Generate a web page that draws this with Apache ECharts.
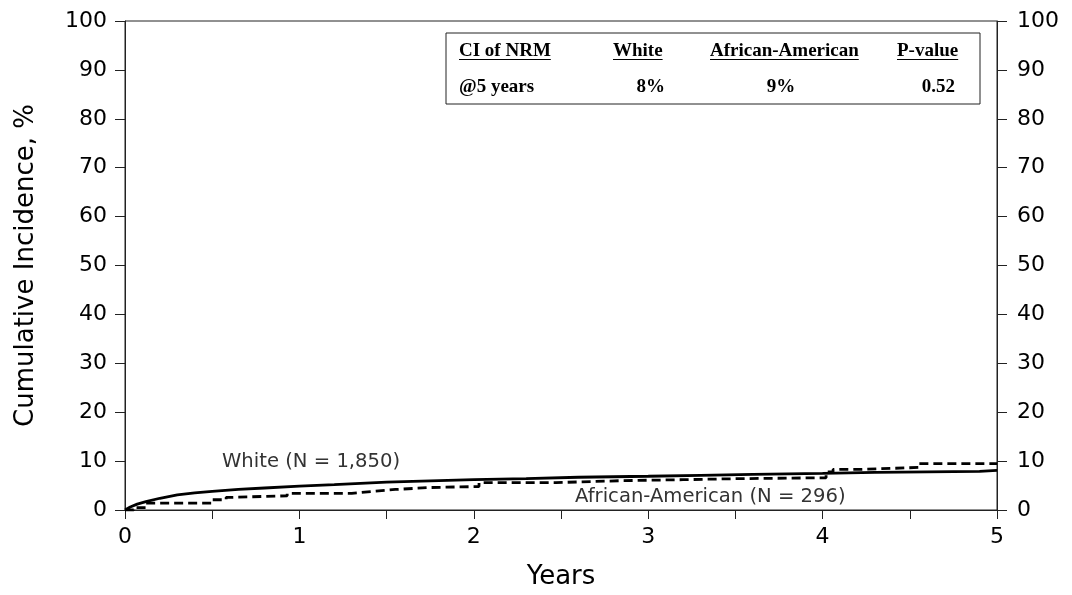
<!DOCTYPE html>
<html>
<head>
<meta charset="utf-8">
<script src="https://cdn.jsdelivr.net/npm/echarts@6/dist/echarts.min.js"></script>
<style>
  html, body { margin: 0; padding: 0; background: #fff; }
  #chart { width: 1072px; height: 595px; }
</style>
</head>
<body>
<div id="chart"></div>
<script>
// years since transplant, cumulative incidence (%)
const whiteYears = [0, 0.03, 0.07, 0.12, 0.2, 0.3, 0.4, 0.5, 0.65, 0.8, 1.0, 1.2, 1.5, 1.8, 2.0, 2.3, 2.6, 3.0, 3.3, 3.6, 4.0, 4.3, 4.6, 4.9, 5.0]
const whiteCI = [0, 0.6, 1.2, 1.7, 2.4, 3.1, 3.5, 3.8, 4.2, 4.5, 4.9, 5.2, 5.7, 6.0, 6.2, 6.4, 6.7, 6.9, 7.1, 7.3, 7.5, 7.7, 7.8, 7.9, 8.1]
const aaYears = [0, 0.05, 0.12, 0.5, 0.58, 0.62, 0.93, 1.3, 1.42, 1.55, 1.75, 2.03, 2.47, 2.85, 3.2, 3.5, 4.02, 4.06, 4.22, 4.55, 5.0]
const aaCI = [0, 0.5, 1.4, 2.1, 2.6, 2.9, 3.4, 3.8, 4.2, 4.6, 4.8, 5.6, 6.0, 6.2, 6.4, 6.6, 7.8, 8.3, 8.7, 9.5, 9.5]
const yTicks = [0, 10, 20, 30, 40, 50, 60, 70, 80, 90, 100]
const xTicks = [0, 1, 2, 3, 4, 5]
const tableHead = ["CI of NRM", "White", "African-American", "P-value"]
const tableRow = ["@5 years", "8%", "9%", "0.52"]
const seriesLabels = ["White (N = 1,850)", "African-American (N = 296)"]

const sans = "DejaVu Sans"
const serif = "Liberation Serif"

function pairs(xs, ys) {
    var out = []
    for (let i = 0; i < xs.length; i++) out.push([xs[i], ys[i]])
    return out
}
function textWidth(text, font) {
    var ctx = document.createElement("canvas").getContext("2d")
    ctx.font = font
    return ctx.measureText(text).width
}

var chart = echarts.init(document.getElementById("chart"))

function yAxisDef(pos, margin) {
    return {
        type: 'value',
        position: pos,
        min: yTicks[0],
        max: yTicks[yTicks.length - 1],
        interval: yTicks[1] - yTicks[0],
        axisLine: { show: true, lineStyle: { color: "#222", width: 1 } },
        axisTick: { show: true, length: 10, lineStyle: { color: "#222" } },
        axisLabel: { fontSize: 22, color: "#000", fontFamily: sans, margin: margin },
        splitLine: { show: false }
    }
}

var left = yAxisDef('left', 18)
left.name = "Cumulative Incidence, %"
left.nameLocation = 'middle'
left.nameGap = 86
left.nameTextStyle = { fontSize: 26, color: "#000", fontFamily: sans }

// table in the top right corner
var headFont = "bold 19px " + serif
var headX = [459, 613, 710, 897]
var rowY = [51, 87]
var graphics = [{
    type: 'rect',
    shape: { x: 446, y: 33, width: 534, height: 71 },
    style: { fill: "#fff", stroke: "#222", lineWidth: 1 }
}]
tableHead.forEach((t, i) => {
    graphics.push({
        type: 'text',
        style: { x: headX[i], y: rowY[0], text: t, font: headFont, fill: "#000", textVerticalAlign: 'middle' }
    })
    var w = textWidth(t, headFont)
    graphics.push({
        type: 'line',
        shape: { x1: headX[i], y1: rowY[0] + 8.5, x2: headX[i] + w, y2: rowY[0] + 8.5 },
        style: { stroke: "#000", lineWidth: 1 }
    })
})
var rowX = [459, 665, 781, 955]
var rowAlign = ['left', 'right', 'center', 'right']
tableRow.forEach((t, i) => {
    graphics.push({
        type: 'text',
        style: { x: rowX[i], y: rowY[1], text: t, font: headFont, fill: "#000", textAlign: rowAlign[i], textVerticalAlign: 'middle' }
    })
})
// curve labels
graphics.push({
    type: 'text',
    style: { x: 222, y: 462, text: seriesLabels[0], font: "19.6px " + sans, fill: "#333", textVerticalAlign: 'middle' }
})
graphics.push({
    type: 'text',
    style: { x: 575, y: 497, text: seriesLabels[1], font: "19.6px " + sans, fill: "#333", textVerticalAlign: 'middle' }
})

chart.setOption({
    animation: false,
    backgroundColor: "#fff",
    grid: { left: 125, right: 75, top: 21, bottom: 85, show: true, borderColor: "#222", borderWidth: 1 },
    xAxis: {
        type: 'value',
        min: xTicks[0],
        max: xTicks[xTicks.length - 1],
        interval: 1,
        name: "Years",
        nameLocation: 'middle',
        nameGap: 54,
        nameTextStyle: { fontSize: 26, color: "#000", fontFamily: sans },
        axisLine: { show: true, lineStyle: { color: "#222", width: 1 } },
        axisTick: { show: true, length: 9, lineStyle: { color: "#222" } },
        minorTick: { show: true, splitNumber: 2, length: 9, lineStyle: { color: "#222" } },
        axisLabel: { fontSize: 22, color: "#000", fontFamily: sans, margin: 16 },
        splitLine: { show: false }
    },
    yAxis: [left, yAxisDef('right', 20)],
    series: [
        {
            name: "White",
            type: 'line',
            data: pairs(whiteYears, whiteCI),
            showSymbol: false,
            lineStyle: { color: "#000", width: 2.8 },
            z: 3
        },
        {
            name: "African-American",
            type: 'line',
            step: 'end',
            data: pairs(aaYears, aaCI),
            showSymbol: false,
            lineStyle: { color: "#000", width: 2.8, type: [9, 5] },
            z: 2
        }
    ],
    graphic: graphics
})
</script>
</body>
</html>
